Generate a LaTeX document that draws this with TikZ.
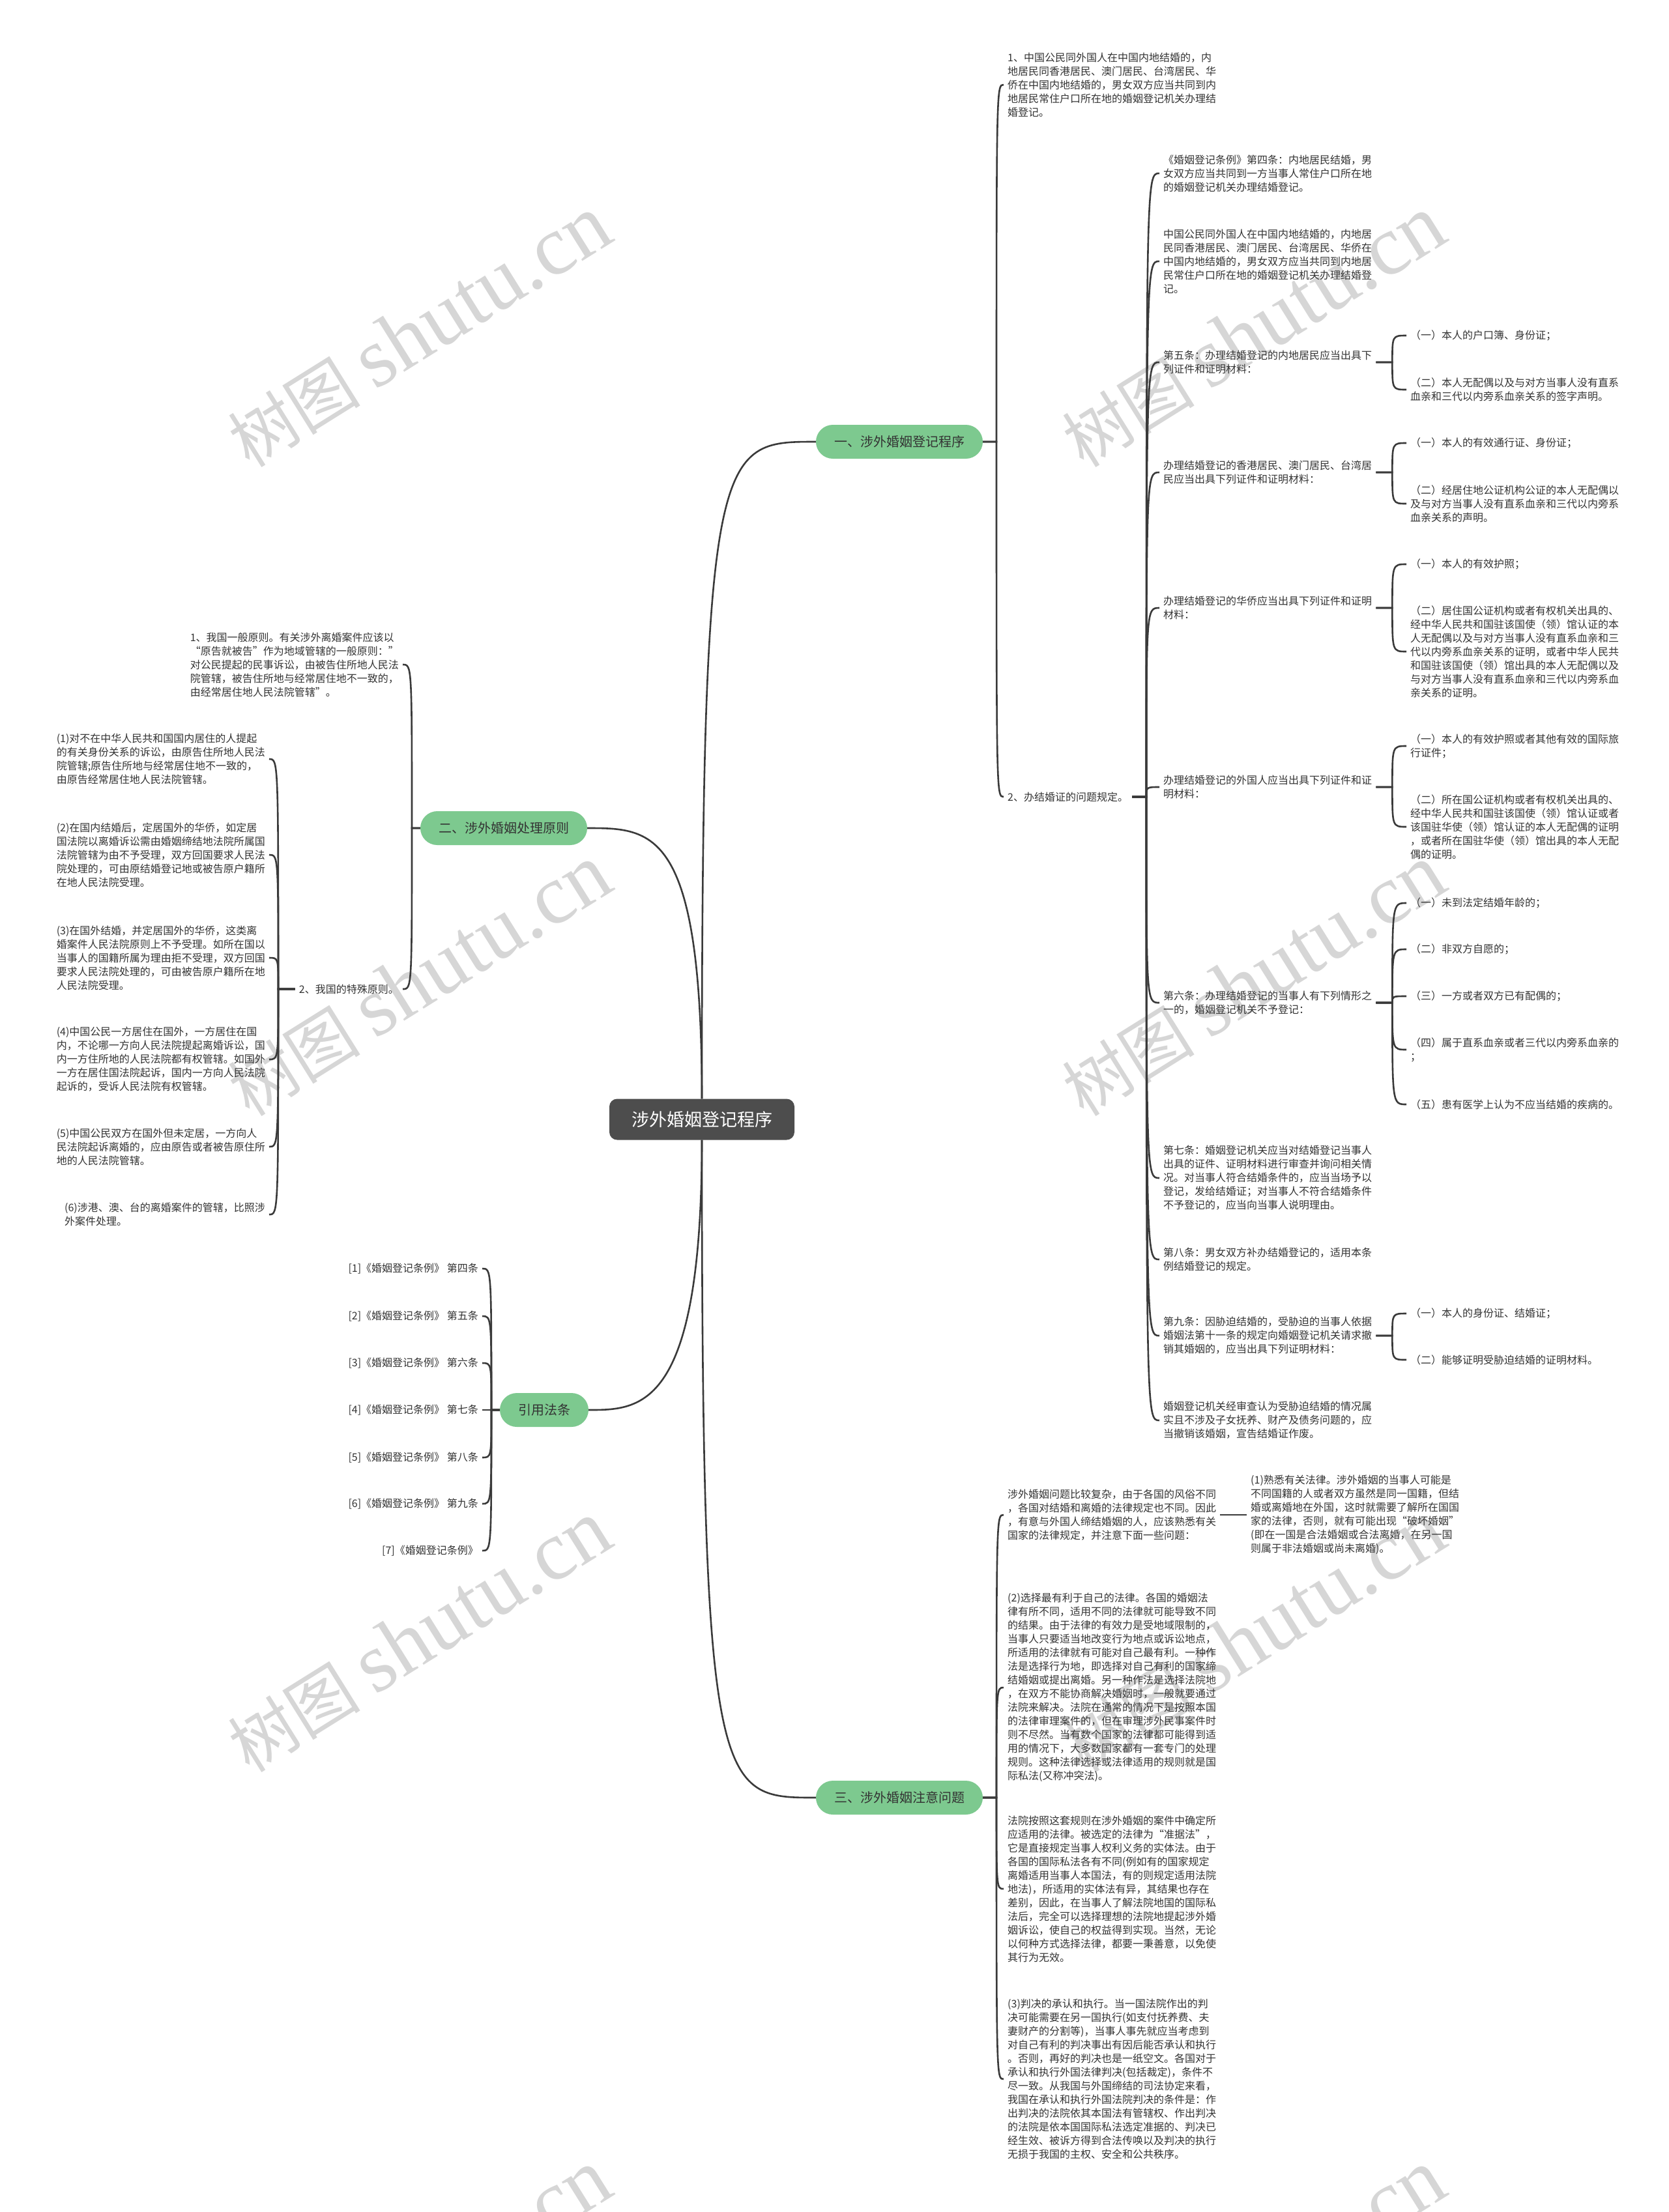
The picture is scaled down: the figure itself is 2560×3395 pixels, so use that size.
\documentclass[tikz,border=0pt]{standalone}
\usepackage{fontspec}
\setmainfont{Noto Sans CJK SC}
\newfontfamily\wmserif{Liberation Serif}
\usetikzlibrary{calc}
\definecolor{lc}{HTML}{3A3A3A}
\definecolor{tc}{HTML}{333333}
\definecolor{pg}{HTML}{7DC98F}
\definecolor{rootc}{HTML}{4D4D4D}
\definecolor{wmc}{HTML}{D6D6D6}
\begin{document}
\begin{tikzpicture}[x=1pt,y=-1pt,
 conn/.style={draw=lc,line width=2.6pt},
 txt/.style={font=\fontsize{16}{21}\selectfont,text=tc,align=left,inner xsep=6pt,inner ysep=2pt},
 rt/.style={txt,anchor=west},
 lt/.style={txt,anchor=east},
 pill/.style={fill=pg,rounded corners=26pt,minimum height=52pt,inner xsep=28pt,font=\fontsize{20}{24}\selectfont,text=tc},
 rootbox/.style={fill=rootc,rounded corners=12pt,minimum height=63pt,minimum width=284pt,text=white,font=\fontsize{27}{32}\selectfont},
 wm/.style={text=wmc,rotate=32,font=\fontsize{102}{102}\selectfont,inner sep=0pt}]
\useasboundingbox (0,0) rectangle (2560,3395);
\fill[white] (0,0) rectangle (2560,3395);
\begin{scope}
\clip (0,0) rectangle (2560,3395);
\node[wm] (wm1) at (643,509) {树图 {\wmserif\fontsize{130}{130}\selectfont shutu.cn}};
\node[wm] (wm2) at (1923,509) {树图 {\wmserif\fontsize{130}{130}\selectfont shutu.cn}};
\node[wm] (wm3) at (643,1505) {树图 {\wmserif\fontsize{130}{130}\selectfont shutu.cn}};
\node[wm] (wm4) at (1923,1505) {树图 {\wmserif\fontsize{130}{130}\selectfont shutu.cn}};
\node[wm] (wm5) at (643,2512) {树图 {\wmserif\fontsize{130}{130}\selectfont shutu.cn}};
\node[wm] (wm6) at (1923,2512) {树图 {\wmserif\fontsize{130}{130}\selectfont shutu.cn}};
\node[wm] (wm7) at (643,3508) {树图 {\wmserif\fontsize{130}{130}\selectfont shutu.cn}};
\node[wm] (wm8) at (1923,3508) {树图 {\wmserif\fontsize{130}{130}\selectfont shutu.cn}};
\end{scope}

% root and branches
\node[rootbox] (root) at (1077,1718) {涉外婚姻登记程序};
\node[pill] (n1) at (1380,678) {一、涉外婚姻登记程序};
\node[pill] (n2) at (773,1271) {二、涉外婚姻处理原则};
\node[pill] (n3) at (835,2164) {引用法条};
\node[pill] (n4) at (1380,2759) {三、涉外婚姻注意问题};

% branch 1
\node[rt] (a1) at (1540,130) {1、中国公民同外国人在中国内地结婚的，内\\地居民同香港居民、澳门居民、台湾居民、华\\侨在中国内地结婚的，男女双方应当共同到内\\地居民常住户口所在地的婚姻登记机关办理结\\婚登记。};
\node[rt] (a2) at (1540,1223) {2、办结婚证的问题规定。};

\node[rt] (s1) at (1779,266) {《婚姻登记条例》第四条：内地居民结婚，男\\女双方应当共同到一方当事人常住户口所在地\\的婚姻登记机关办理结婚登记。};
\node[rt] (s2) at (1779,401) {中国公民同外国人在中国内地结婚的，内地居\\民同香港居民、澳门居民、台湾居民、华侨在\\中国内地结婚的，男女双方应当共同到内地居\\民常住户口所在地的婚姻登记机关办理结婚登\\记。};
\node[rt] (s3) at (1779,556) {第五条：办理结婚登记的内地居民应当出具下\\列证件和证明材料：};
\node[rt] (s4) at (1779,725) {办理结婚登记的香港居民、澳门居民、台湾居\\民应当出具下列证件和证明材料：};
\node[rt] (s5) at (1779,933) {办理结婚登记的华侨应当出具下列证件和证明\\材料：};
\node[rt] (s6) at (1779,1208) {办理结婚登记的外国人应当出具下列证件和证\\明材料：};
\node[rt] (s7) at (1779,1539) {第六条：办理结婚登记的当事人有下列情形之\\一的，婚姻登记机关不予登记：};
\node[rt] (s8) at (1779,1808) {第七条：婚姻登记机关应当对结婚登记当事人\\出具的证件、证明材料进行审查并询问相关情\\况。对当事人符合结婚条件的，应当当场予以\\登记，发给结婚证；对当事人不符合结婚条件\\不予登记的，应当向当事人说明理由。};
\node[rt] (s9) at (1779,1933) {第八条：男女双方补办结婚登记的，适用本条\\例结婚登记的规定。};
\node[rt] (s10) at (1779,2050) {第九条：因胁迫结婚的，受胁迫的当事人依据\\婚姻法第十一条的规定向婚姻登记机关请求撤\\销其婚姻的，应当出具下列证明材料：};
\node[rt] (s11) at (1779,2180) {婚姻登记机关经审查认为受胁迫结婚的情况属\\实且不涉及子女抚养、财产及债务问题的，应\\当撤销该婚姻，宣告结婚证作废。};

\node[rt] (s3a) at (2158,515) {（一）本人的户口簿、身份证；};
\node[rt] (s3b) at (2158,598) {（二）本人无配偶以及与对方当事人没有直系\\血亲和三代以内旁系血亲关系的签字声明。};
\node[rt] (s4a) at (2158,680) {（一）本人的有效通行证、身份证；};
\node[rt] (s4b) at (2158,773) {（二）经居住地公证机构公证的本人无配偶以\\及与对方当事人没有直系血亲和三代以内旁系\\血亲关系的声明。};
\node[rt] (s5a) at (2158,866) {（一）本人的有效护照；};
\node[rt] (s5b) at (2158,1000) {（二）居住国公证机构或者有权机关出具的、\\经中华人民共和国驻该国使（领）馆认证的本\\人无配偶以及与对方当事人没有直系血亲和三\\代以内旁系血亲关系的证明，或者中华人民共\\和国驻该国使（领）馆出具的本人无配偶以及\\与对方当事人没有直系血亲和三代以内旁系血\\亲关系的证明。};
\node[rt] (s6a) at (2158,1145) {（一）本人的有效护照或者其他有效的国际旅\\行证件；};
\node[rt] (s6b) at (2158,1269) {（二）所在国公证机构或者有权机关出具的、\\经中华人民共和国驻该国使（领）馆认证或者\\该国驻华使（领）馆认证的本人无配偶的证明\\，或者所在国驻华使（领）馆出具的本人无配\\偶的证明。};
\node[rt] (s7a) at (2158,1386) {（一）未到法定结婚年龄的；};
\node[rt] (s7b) at (2158,1457) {（二）非双方自愿的；};
\node[rt] (s7c) at (2158,1529) {（三）一方或者双方已有配偶的；};
\node[rt] (s7d) at (2158,1611) {（四）属于直系血亲或者三代以内旁系血亲的\\；};
\node[rt] (s7e) at (2158,1695) {（五）患有医学上认为不应当结婚的疾病的。};
\node[rt] (s10a) at (2158,2016) {（一）本人的身份证、结婚证；};
\node[rt] (s10b) at (2158,2087) {（二）能够证明受胁迫结婚的证明材料。};

% branch 2
\node[lt] (l1) at (618,1020) {1、我国一般原则。有关涉外离婚案件应该以\\ “原告就被告”作为地域管辖的一般原则：”\\对公民提起的民事诉讼，由被告住所地人民法\\院管辖，被告住所地与经常居住地不一致的，\\由经常居住地人民法院管辖”。};
\node[lt] (l2) at (618,1518) {2、我国的特殊原则。};
\node[lt] (m1) at (413,1165) {(1)对不在中华人民共和国国内居住的人提起\\的有关身份关系的诉讼，由原告住所地人民法\\院管辖;原告住所地与经常居住地不一致的，\\由原告经常居住地人民法院管辖。};
\node[lt] (m2) at (413,1312) {(2)在国内结婚后，定居国外的华侨，如定居\\国法院以离婚诉讼需由婚姻缔结地法院所属国\\法院管辖为由不予受理，双方回国要求人民法\\院处理的，可由原结婚登记地或被告原户籍所\\在地人民法院受理。};
\node[lt] (m3) at (413,1470) {(3)在国外结婚，并定居国外的华侨，这类离\\婚案件人民法院原则上不予受理。如所在国以\\当事人的国籍所属为理由拒不受理，双方回国\\要求人民法院处理的，可由被告原户籍所在地\\人民法院受理。};
\node[lt] (m4) at (413,1626) {(4)中国公民一方居住在国外，一方居住在国\\内，不论哪一方向人民法院提起离婚诉讼，国\\内一方住所地的人民法院都有权管辖。如国外\\一方在居住国法院起诉，国内一方向人民法院\\起诉的，受诉人民法院有权管辖。};
\node[lt] (m5) at (413,1760) {(5)中国公民双方在国外但未定居，一方向人\\民法院起诉离婚的，应由原告或者被告原住所\\地的人民法院管辖。};
\node[lt] (m6) at (413,1864) {(6)涉港、澳、台的离婚案件的管辖，比照涉\\外案件处理。};

% references
\node[lt] (r1) at (740,1947) {[1]《婚姻登记条例》 第四条};
\node[lt] (r2) at (740,2020) {[2]《婚姻登记条例》 第五条};
\node[lt] (r3) at (740,2092) {[3]《婚姻登记条例》 第六条};
\node[lt] (r4) at (740,2164) {[4]《婚姻登记条例》 第七条};
\node[lt] (r5) at (740,2237) {[5]《婚姻登记条例》 第八条};
\node[lt] (r6) at (740,2308) {[6]《婚姻登记条例》 第九条};
\node[lt] (r7) at (740,2380) {[7]《婚姻登记条例》};

% branch 3
\node[rt] (d1) at (1540,2325) {涉外婚姻问题比较复杂，由于各国的风俗不同\\，各国对结婚和离婚的法律规定也不同。因此\\，有意与外国人缔结婚姻的人，应该熟悉有关\\国家的法律规定，并注意下面一些问题：};
\node[rt] (d1a) at (1913,2325) {(1)熟悉有关法律。涉外婚姻的当事人可能是\\不同国籍的人或者双方虽然是同一国籍，但结\\婚或离婚地在外国，这时就需要了解所在国国\\家的法律，否则，就有可能出现“破坏婚姻”\\(即在一国是合法婚姻或合法离婚，在另一国\\则属于非法婚姻或尚未离婚)。};
\node[rt] (d2) at (1540,2590) {(2)选择最有利于自己的法律。各国的婚姻法\\律有所不同，适用不同的法律就可能导致不同\\的结果。由于法律的有效力是受地域限制的，\\当事人只要适当地改变行为地点或诉讼地点，\\所适用的法律就有可能对自己最有利。一种作\\法是选择行为地，即选择对自己有利的国家缔\\结婚姻或提出离婚。另一种作法是选择法院地\\，在双方不能协商解决婚姻时，一般就要通过\\法院来解决。法院在通常的情况下是按照本国\\的法律审理案件的，但在审理涉外民事案件时\\则不尽然。当有数个国家的法律都可能得到适\\用的情况下，大多数国家都有一套专门的处理\\规则。这种法律选择或法律适用的规则就是国\\际私法(又称冲突法)。};
\node[rt] (d3) at (1540,2899) {法院按照这套规则在涉外婚姻的案件中确定所\\应适用的法律。被选定的法律为“准据法”，\\它是直接规定当事人权利义务的实体法。由于\\各国的国际私法各有不同(例如有的国家规定\\离婚适用当事人本国法，有的则规定适用法院\\地法)，所适用的实体法有异，其结果也存在\\差别，因此，在当事人了解法院地国的国际私\\法后，完全可以选择理想的法院地提起涉外婚\\姻诉讼，使自己的权益得到实现。当然，无论\\以何种方式选择法律，都要一秉善意，以免使\\其行为无效。};
\node[rt] (d4) at (1540,3191) {(3)判决的承认和执行。当一国法院作出的判\\决可能需要在另一国执行(如支付抚养费、夫\\妻财产的分割等)，当事人事先就应当考虑到\\对自己有利的判决事出有因后能否承认和执行\\。否则，再好的判决也是一纸空文。各国对于\\承认和执行外国法律判决(包括裁定)，条件不\\尽一致。从我国与外国缔结的司法协定来看，\\我国在承认和执行外国法院判决的条件是：作\\出判决的法院依其本国法有管辖权、作出判决\\的法院是依本国国际私法选定准据的、判决已\\经生效、被诉方得到合法传唤以及判决的执行\\无损于我国的主权、安全和公共秩序。};

% root connectors
\draw[conn] (root.north) .. controls (root.north |- n1.west) and ($(n1.west)+(-150,0)$) .. (n1.west);
\draw[conn] (root.north) .. controls (root.north |- n2.east) and ($(n2.east)+(100,0)$) .. (n2.east);
\draw[conn] (root.south) .. controls (root.south |- n3.east) and ($(n3.east)+(80,0)$) .. (n3.east);
\draw[conn] (root.south) .. controls (root.south |- n4.west) and ($(n4.west)+(-150,0)$) .. (n4.west);

% trunks
\coordinate (tA) at (1529,678);
\coordinate (tB) at (1759,1223);
\coordinate (tL) at (632,1271);
\coordinate (tM) at (427,1518);
\coordinate (tR) at (754,2164);
\coordinate (tD) at (1529,2759);

\foreach \c in {a1,a2} \draw[conn] (n1.east) -- (tA) .. controls (tA |- \c.west) .. (\c.west);
\foreach \c in {s1,s2,s3,s4,s5,s6,s7,s8,s9,s10,s11} \draw[conn] (a2.east) -- (tB) .. controls (tB |- \c.west) .. (\c.west);
\foreach \p/\cs in {s3/{s3a,s3b},s4/{s4a,s4b},s5/{s5a,s5b},s6/{s6a,s6b},s7/{s7a,s7b,s7c,s7d,s7e},s10/{s10a,s10b}} {
  \coordinate (tt) at ($(\p.east)+(25,0)$);
  \foreach \c in \cs \draw[conn] (\p.east) -- (tt) .. controls (tt |- \c.west) .. (\c.west);
}
\foreach \c in {l1,l2} \draw[conn] (n2.west) -- (tL) .. controls (tL |- \c.east) .. (\c.east);
\foreach \c in {m1,m2,m3,m4,m5,m6} \draw[conn] (l2.west) -- (tM) .. controls (tM |- \c.east) .. (\c.east);
\foreach \c in {r1,r2,r3,r4,r5,r6,r7} \draw[conn] (n3.west) -- (tR) .. controls (tR |- \c.east) .. (\c.east);
\foreach \c in {d1,d2,d3,d4} \draw[conn] (n4.east) -- (tD) .. controls (tD |- \c.west) .. (\c.west);
\draw[conn] (d1.east) -- (d1a.west);
\end{tikzpicture}
\end{document}
